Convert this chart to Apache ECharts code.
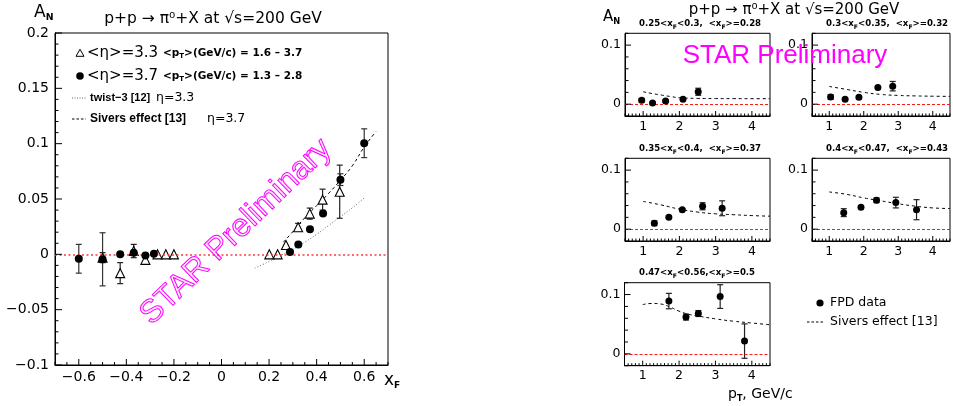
<!DOCTYPE html>
<html><head><meta charset="utf-8">
<script src="https://cdn.jsdelivr.net/npm/echarts@6/dist/echarts.min.js"></script>
<style>html,body{margin:0;padding:0;background:#fff}#c{width:953px;height:406px}</style>
</head><body><div id="c"></div>
<script>
// ---------- DATA: left panel, A_N vs x_F ----------
const xfEta33  = [-0.5, -0.426, -0.369, -0.32, -0.269, -0.234, -0.2, 0.201, 0.236, 0.271, 0.322, 0.371, 0.425, 0.497];
const anEta33  = [-0.003, -0.017, 0.003, -0.005, 0.0, 0.0, 0.0, 0.0, 0.0, 0.0085, 0.0245, 0.0368, 0.0494, 0.0566];
const errEta33 = [0.0045, 0.0095, 0.006, 0, 0, 0, 0, 0, 0, 0, 0.0035, 0.005, 0.0095, 0.024];
const xfEta37  = [-0.6, -0.5, -0.426, -0.369, -0.32, -0.284, 0.288, 0.323, 0.372, 0.427, 0.5, 0.6];
const anEta37  = [-0.004, -0.0045, 0.0, 0.0015, -0.001, 0.0006, 0.002, 0.0088, 0.0227, 0.0368, 0.0675, 0.1004];
const errEta37 = [0.013, 0.024, 0, 0, 0, 0, 0, 0, 0, 0, 0.0053, 0.013];
const twist3X  = [0.14, 0.2, 0.25, 0.3, 0.35, 0.4, 0.45, 0.5, 0.55, 0.6];
const twist3Y  = [-0.0125, -0.0065, -0.001, 0.0045, 0.011, 0.018, 0.026, 0.034, 0.042, 0.051];
const siversXF = [0.26, 0.3, 0.35, 0.4, 0.45, 0.5, 0.55, 0.6, 0.65];
const siversAN = [0.011, 0.0205, 0.033, 0.044, 0.055, 0.067, 0.080, 0.097, 0.111];

// ---------- DATA: right panels, A_N vs p_T ----------
const binLo   = ['0.25', '0.3', '0.35', '0.4', '0.47'];
const binHi   = ['0.3', '0.35', '0.4', '0.47', '0.56'];
const binMean = ['0.28', '0.32', '0.37', '0.43', '0.5'];
const ptData  = [
  [0.96, 1.26, 1.62, 2.1, 2.52],
  [1.04, 1.46, 1.86, 2.41, 2.84],
  [1.31, 1.71, 2.08, 2.64, 3.18],
  [1.42, 1.92, 2.37, 2.93, 3.53],
  [1.72, 2.19, 2.53, 3.13, 3.8]
];
const anData  = [
  [0.0067, 0.002, 0.0055, 0.0083, 0.021],
  [0.0122, 0.0083, 0.0117, 0.0283, 0.0305],
  [0.0101, 0.0202, 0.033, 0.0388, 0.0354],
  [0.028, 0.037, 0.049, 0.045, 0.033],
  [0.089, 0.062, 0.068, 0.0966, 0.0215]
];
const errData = [
  [0.003, 0.002, 0.002, 0.002, 0.006],
  [0.004, 0.002, 0.002, 0.002, 0.008],
  [0.004, 0.002, 0.002, 0.006, 0.0126],
  [0.0067, 0.002, 0.004, 0.009, 0.017],
  [0.013, 0.005, 0.005, 0.02, 0.029]
];
const siversPtX = [
  [1, 1.25, 1.5, 1.75, 2, 2.5, 3, 3.5, 4, 4.5],
  [1, 1.5, 2, 2.5, 3, 3.5, 4, 4.5],
  [1, 1.5, 2, 2.5, 3, 3.5, 4, 4.5],
  [1, 1.5, 2, 2.5, 3, 3.5, 4, 4.5],
  [1, 1.25, 1.5, 1.75, 2, 2.25, 2.5, 3, 3.5, 4, 4.5]
];
const siversPtY = [
  [0.021, 0.018, 0.0155, 0.013, 0.011, 0.0098, 0.0095, 0.0094, 0.0093, 0.0093],
  [0.030, 0.025, 0.020, 0.0165, 0.0148, 0.014, 0.0135, 0.0132],
  [0.047, 0.041, 0.034, 0.029, 0.026, 0.0245, 0.023, 0.022],
  [0.063, 0.059, 0.053, 0.048, 0.043, 0.039, 0.036, 0.035],
  [0.083, 0.085, 0.084, 0.079, 0.072, 0.067, 0.064, 0.059, 0.055, 0.052, 0.049]
];

// ---------- AXIS TICK SPECS (range, major step, minor step) ----------
const leftXAxisSpec  = {min: -0.7, max: 0.7, major: 0.2, minor: 0.05};
const leftYAxisSpec  = {min: -0.1, max: 0.2, major: 0.05, minor: 0.01};
const rightXAxisSpec = {min: 0.5, max: 4.5, major: 1, minor: 0.1};
const rightYAxisSpec = {min: -0.02, max: 0.12, major: 0.1, minor: 0.02};

// ---------- LAYOUT / STYLE ----------
const FONT = "'DejaVu Sans', sans-serif";
const LIB = "'Liberation Sans', sans-serif";
const grids = [
  {left: 55,  top: 33,    width: 333, height: 332},
  {left: 625, top: 33.3,  width: 145, height: 82.7},
  {left: 812, top: 33.3,  width: 146, height: 82.7},
  {left: 625, top: 158.3, width: 145, height: 82.7},
  {left: 812, top: 158.3, width: 146, height: 82.7},
  {left: 624.5, top: 282.7, width: 145.5, height: 83}
];
const subPos = [[700, 24], [887, 24], [700, 149], [887, 149], [697, 273]];

function fmtNum(v) {
  const s = String(parseFloat(v.toFixed(3)));
  return s.replace('-', '\u2212');
}
const axLine = () => ({show: true, onZero: false, lineStyle: {color: '#000', width: 1}});

const xAxes = [], yAxes = [];
grids.forEach((g, i) => {
  if (i === 0) {
    xAxes.push({
      type: 'value', gridIndex: 0, min: -0.7, max: 0.7, interval: 0.1,
      axisLine: axLine(), splitLine: {show: false}, axisTick: {show: false}, minorTick: {show: false},
      axisLabel: {
        margin: 5, color: '#000', fontSize: 14, fontFamily: FONT,
        formatter: v => { const k = Math.round(v * 10); return (k % 2 === 0) ? fmtNum(v) : ''; }
      }
    });
    yAxes.push({
      type: 'value', gridIndex: 0, min: -0.1, max: 0.2, interval: 0.05,
      axisLine: axLine(), splitLine: {show: false}, axisTick: {show: false}, minorTick: {show: false},
      axisLabel: {margin: 6, color: '#000', fontSize: 14, fontFamily: FONT, formatter: v => fmtNum(v)}
    });
  } else {
    xAxes.push({
      type: 'value', gridIndex: i, min: 0.5, max: 4.5, interval: 0.5,
      axisLine: axLine(), splitLine: {show: false}, axisTick: {show: false}, minorTick: {show: false},
      axisLabel: {
        margin: 4, color: '#000', fontSize: 12.5, fontFamily: FONT,
        formatter: v => (Math.abs(v - Math.round(v)) < 1e-6) ? String(Math.round(v)) : ''
      }
    });
    yAxes.push({
      type: 'value', gridIndex: i, min: -0.02, max: 0.12, interval: 0.02,
      axisLine: axLine(), splitLine: {show: false}, axisTick: {show: false},
      axisLabel: {
        margin: 4, color: '#000', fontSize: 12.5, fontFamily: FONT,
        formatter: v => (Math.abs(v) < 1e-6) ? '0' : (Math.abs(v - 0.1) < 1e-6 ? '0.1' : '')
      }
    });
  }
});

// ---------- tick marks drawn through the axis scales ----------
function tickValues(spec) {
  const out = [];
  const n = Math.round((spec.max - spec.min) / spec.minor);
  for (let k = 0; k <= n; k++) {
    const v = +(spec.min + k * spec.minor).toFixed(6);
    const r = v / spec.major;
    out.push([v, Math.abs(r - Math.round(r)) < 1e-6 ? 1 : 0]);
  }
  return out;
}
function tickSeries(idx, xs, ys, lens) {
  const d = [];
  tickValues(xs).forEach(t => d.push([t[0], ys.min, t[1] ? 0 : 1]));
  tickValues(ys).forEach(t => d.push([xs.min, t[0], t[1] ? 2 : 3]));
  return {type: 'custom', coordinateSystem: 'cartesian2d', xAxisIndex: idx, yAxisIndex: idx, silent: true, z: 6,
    encode: {x: 0, y: 1}, data: d,
    renderItem: function (params, api) {
      const cs = params.coordSys, k = api.value(2), L = lens[k];
      const p = api.coord([api.value(0), api.value(1)]);
      const st = {stroke: '#000', lineWidth: 1};
      if (k < 2) {
        const yb = cs.y + cs.height;
        return {type: 'line', shape: {x1: p[0], y1: yb, x2: p[0], y2: yb - L}, style: st};
      }
      return {type: 'line', shape: {x1: cs.x, y1: p[1], x2: cs.x + L, y2: p[1]}, style: st};
    }};
}

function errRender(color) {
  return function (params, api) {
    const x = api.value(0), y = api.value(1), e = api.value(2);
    const p1 = api.coord([x, y + e]), p2 = api.coord([x, y - e]);
    const w = 3, st = {stroke: color, lineWidth: 1.2};
    return {type: 'group', children: [
      {type: 'line', shape: {x1: p1[0], y1: p1[1], x2: p2[0], y2: p2[1]}, style: st},
      {type: 'line', shape: {x1: p1[0] - w, y1: p1[1], x2: p1[0] + w, y2: p1[1]}, style: st},
      {type: 'line', shape: {x1: p2[0] - w, y1: p2[1], x2: p2[0] + w, y2: p2[1]}, style: st}
    ]};
  };
}
function errSeries(idx, xs, ys, es, color) {
  const d = [];
  xs.forEach((x, i) => { if (es[i] > 0) d.push([x, ys[i], es[i]]); });
  return {type: 'custom', coordinateSystem: 'cartesian2d', xAxisIndex: idx, yAxisIndex: idx,
    renderItem: errRender(color), data: d, encode: {x: 0, y: 1}, silent: true, z: 3};
}
function zeroLine(style) {
  return {silent: true, symbol: ['none', 'none'], label: {show: false},
    lineStyle: style, data: [{yAxis: 0}], animation: false};
}
const pair = (xs, ys) => xs.map((x, i) => [x, ys[i]]);

const series = [];
// left panel
series.push({type: 'line', xAxisIndex: 0, yAxisIndex: 0, data: pair(twist3X, twist3Y), smooth: true,
  showSymbol: false, lineStyle: {color: '#666', width: 1, type: [1, 2]}, z: 2,
  markLine: zeroLine({color: '#ff3b3b', width: 1.6, type: [2, 2.5]})});
series.push({type: 'line', xAxisIndex: 0, yAxisIndex: 0, data: pair(siversXF, siversAN), smooth: true,
  showSymbol: false, lineStyle: {color: '#000', width: 1, type: [3, 3]}, z: 2});
series.push(errSeries(0, xfEta33, anEta33, errEta33, '#222'));
series.push({type: 'scatter', xAxisIndex: 0, yAxisIndex: 0, data: pair(xfEta33, anEta33),
  symbol: 'triangle', symbolSize: 9, itemStyle: {color: '#fff', borderColor: '#000', borderWidth: 1.1, opacity: 1}, z: 4});
series.push(errSeries(0, xfEta37, anEta37, errEta37, '#333'));
series.push({type: 'scatter', xAxisIndex: 0, yAxisIndex: 0, data: pair(xfEta37, anEta37),
  symbol: 'circle', symbolSize: 8, itemStyle: {color: '#000', opacity: 1}, z: 5});
series.push(tickSeries(0, leftXAxisSpec, leftYAxisSpec, [6, 3, 7, 3.5]));
// right panels
for (let p = 0; p < 5; p++) {
  const idx = p + 1;
  series.push({type: 'line', xAxisIndex: idx, yAxisIndex: idx, data: pair(siversPtX[p], siversPtY[p]), smooth: true,
    showSymbol: false, lineStyle: {color: '#000', width: 1, type: [3, 3]}, z: 2,
    markLine: zeroLine({color: '#ff1a1a', width: 1.2, type: [3, 2]})});
  series.push(errSeries(idx, ptData[p], anData[p], errData[p], '#222'));
  series.push({type: 'scatter', xAxisIndex: idx, yAxisIndex: idx, data: pair(ptData[p], anData[p]),
    symbol: 'circle', symbolSize: 7, itemStyle: {color: '#000', opacity: 1}, z: 5});
  series.push(tickSeries(idx, rightXAxisSpec, rightYAxisSpec, [5, 2.5, 6, 3.5]));
}

// ---------- TEXT / DECOR ----------
const G = [];
function T(x, y, text, o) {
  o = o || {};
  const style = {
    text: text, fill: o.fill || '#000',
    font: (o.weight || 'normal') + ' ' + (o.size || 12) + 'px ' + (o.family || FONT),
    textAlign: o.align || 'left', textVerticalAlign: 'middle'
  };
  if (o.stroke) { style.stroke = o.stroke; style.lineWidth = o.lw || 1; }
  if (o.rich) style.rich = o.rich;
  G.push({type: 'text', x: x, y: y, z: 50, rotation: o.rot || 0, silent: true, style: style});
}
const subRich = (fs) => ({a: {fontSize: fs, fontFamily: FONT, fontWeight: 'bold', lineHeight: fs + 4},
                         s: {fontSize: fs * 0.7, fontFamily: FONT, fontWeight: 'bold', verticalAlign: 'bottom', lineHeight: fs * 0.7 + 2}});

T(213, 19, 'p+p \u2192 \u03c0\u2070+X at \u221as=200 GeV', {size: 15.5, align: 'center'});
T(794, 10, 'p+p \u2192 \u03c0\u2070+X at \u221as=200 GeV', {size: 15, align: 'center'});
// A_N labels
const anRich = (fs) => ({a: {fontSize: fs, fontFamily: FONT, lineHeight: fs + 2},
                        s: {fontSize: fs * 0.55, fontFamily: FONT, fontWeight: 'bold', verticalAlign: 'bottom', lineHeight: fs * 0.55}});
T(34, 13, '{a|A}{s|N}', {rich: anRich(17)});
T(603, 17, '{a|A}{s|N}', {rich: anRich(15)});
// x_F and p_T axis titles
T(384, 381, '{a|x}{s|F}', {rich: {a: {fontSize: 17, fontFamily: FONT, lineHeight: 19}, s: {fontSize: 9, fontFamily: FONT, fontWeight: 'bold', verticalAlign: 'bottom', lineHeight: 9}}});
T(728, 394, '{a|p}{s|T}{a|, GeV/c}', {rich: {a: {fontSize: 14, fontFamily: FONT, lineHeight: 17}, s: {fontSize: 8, fontFamily: FONT, fontWeight: 'bold', verticalAlign: 'bottom', lineHeight: 9}}});
// panel subtitles
for (let p = 0; p < 5; p++) {
  const sep = p < 4 ? ',  ' : ',';
  T(subPos[p][0], subPos[p][1], `{a|${binLo[p]}<x}{s|F}{a|<${binHi[p]}${sep}<x}{s|F}{a|>=${binMean[p]}}`,
    {align: 'center', rich: subRich(8.6)});
}
// left legend
G.push({type: 'polygon', z: 50, shape: {points: [[80, 49.3], [76, 56.3], [84, 56.3]]}, style: {fill: '#fff', stroke: '#000', lineWidth: 1}});
G.push({type: 'circle', z: 50, shape: {cx: 80, cy: 76, r: 3.8}, style: {fill: '#000'}});
T(87, 53, '<\u03b7>=3.3', {size: 15});
T(87, 76, '<\u03b7>=3.7', {size: 15});
const ptRich = {a: {fontSize: 10.5, fontFamily: FONT, fontWeight: 'bold', lineHeight: 14},
                s: {fontSize: 7, fontFamily: FONT, fontWeight: 'bold', verticalAlign: 'bottom', lineHeight: 9}};
T(163, 53, '{a|<p}{s|T}{a|>(GeV/c) = 1.6 \u2013 3.7}', {rich: ptRich});
T(163, 76, '{a|<p}{s|T}{a|>(GeV/c) = 1.3 \u2013 2.8}', {rich: ptRich});
G.push({type: 'line', z: 50, shape: {x1: 72, y1: 98, x2: 86, y2: 98}, style: {stroke: '#666', lineWidth: 1, lineDash: [1, 1.5]}});
G.push({type: 'line', z: 50, shape: {x1: 72, y1: 119, x2: 86, y2: 119}, style: {stroke: '#000', lineWidth: 1, lineDash: [2.5, 2]}});
T(90, 98, 'twist\u22123 [12]', {size: 11, family: LIB, weight: 'bold'});
T(156, 98, '\u03b7=3.3', {size: 12.5});
T(90, 119, 'Sivers effect [13]', {size: 12, family: LIB, weight: 'bold'});
T(207, 119, '\u03b7=3.7', {size: 12.5});
// right legend
G.push({type: 'circle', z: 50, shape: {cx: 820, cy: 303, r: 3.6}, style: {fill: '#000'}});
T(830, 303, 'FPD data', {size: 12.5});
G.push({type: 'line', z: 50, shape: {x1: 807, y1: 322, x2: 825, y2: 322}, style: {stroke: '#000', lineWidth: 1, lineDash: [2.5, 2]}});
T(830, 322, 'Sivers effect [13]', {size: 12.5});
// STAR Preliminary stamps
T(236, 232, 'STAR Preliminary', {size: 32, align: 'center', rot: 44 * Math.PI / 180, family: LIB,
  fill: 'rgba(255,0,255,0.08)', stroke: '#ff00ff', lw: 1});
T(785, 56, 'STAR Preliminary', {size: 26, align: 'center', family: LIB, fill: '#ff00ff'});

const option = {
  animation: false,
  grid: grids.map(g => Object.assign({show: true, borderColor: '#000', borderWidth: 1}, g)),
  xAxis: xAxes,
  yAxis: yAxes,
  series: series,
  graphic: {elements: G}
};
const chart = echarts.init(document.getElementById('c'));
chart.setOption(option);
</script></body></html>
